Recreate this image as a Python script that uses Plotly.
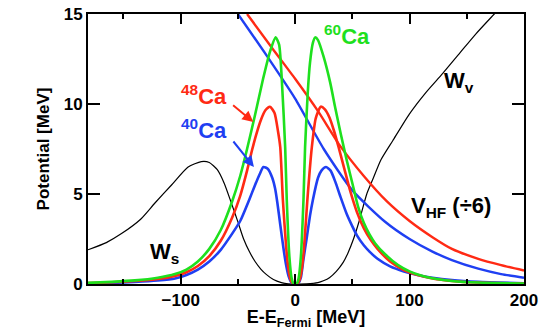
import plotly.graph_objects as go

# Surface absorption W_s for the three calcium isotopes (MeV vs E - E_Fermi)
ca60_e = [-181, -160, -140, -120, -105, -95, -85, -75, -65, -55, -48, -42, -35, -28, -22, -17,
          -14, -11.6, -8.7, -7.3, -5, -3, -1.5, 0, 1.5, 3, 5, 7.3, 8.7, 11, 13, 15.5, 17.5,
          20, 25, 30.6, 35, 40, 45, 50, 55, 60, 65, 70, 78.6, 90, 100, 110, 120, 137, 160, 200]
ca60_w = [0.06, 0.12, 0.2, 0.35, 0.55, 0.8, 1.25, 1.95, 3.0, 4.6, 6.0, 7.5, 9.4, 11.4, 12.9, 13.7,
          13.3, 11.3, 7.6, 4.67, 1.5, 0.3, 0.03, 0, 0.03, 0.3, 1.5, 4.67, 7.6, 10.6, 12.3, 13.4, 13.7,
          13.55, 12.6, 11.2, 9.8, 8.3, 6.9, 5.6, 4.3, 3.4, 2.75, 2.25, 1.65, 1.05, 0.7, 0.47, 0.32, 0.17, 0.08, 0.03]

ca48_e = [-181, -160, -140, -120, -105, -95, -85, -75, -65, -55, -48, -42, -37.8, -34, -30, -26, -22,
          -18, -15, -13, -10.7, -8, -6, -4, -2, 0, 2, 4, 6, 8, 10.7, 14.6, 18, 22.4, 26, 30,
          34, 38, 43, 48, 54, 60, 66, 72, 83, 95, 107, 120, 137, 160, 200]
ca48_w = [0.05, 0.1, 0.17, 0.28, 0.45, 0.65, 1.0, 1.55, 2.4, 3.7, 4.9, 6.3, 7.4, 8.3, 9.1, 9.65, 9.85,
          9.5, 8.5, 7.6, 4.67, 2.2, 0.9, 0.25, 0.02, 0, 0.02, 0.25, 0.9, 2.2, 4.67, 7.6, 9.2, 9.85, 9.7, 9.25,
          8.5, 7.6, 6.4, 5.2, 4.0, 3.1, 2.45, 1.95, 1.25, 0.78, 0.5, 0.31, 0.17, 0.08, 0.03]

ca40_e = [-181, -160, -140, -120, -105, -95, -85, -75, -65, -55, -48, -40, -35, -31, -27.7, -24,
          -20, -17.5, -15.5, -13, -10, -8, -5.8, -3, 0, 3, 5, 7.3, 10, 13, 15.5, 20, 23, 27,
          31, 35, 39.3, 45, 50, 54, 60, 65, 72, 83, 95, 107, 120, 137, 160, 200]
ca40_w = [0.03, 0.06, 0.11, 0.19, 0.3, 0.5, 0.8, 1.25, 1.9, 2.8, 3.5, 4.7, 5.5, 6.1, 6.5, 6.4,
          5.9, 5.3, 4.5, 3.3, 1.9, 1.1, 0.46, 0.06, 0, 0.06, 0.35, 1.39, 2.5, 3.8, 4.67, 5.9, 6.3, 6.5,
          6.3, 5.7, 4.9, 3.9, 3.2, 2.7, 2.15, 1.8, 1.4, 0.98, 0.7, 0.5, 0.35, 0.22, 0.12, 0.04]

# Hartree-Fock potential, scaled down by 6
vhf48_e = [-42, -20, 0, 20, 39, 60, 80, 100, 120, 137, 160, 180, 200]
vhf48_v = [15, 13.1, 11.4, 9.6, 7.7, 6.0, 4.6, 3.5, 2.6, 1.95, 1.4, 1.05, 0.75]
vhf40_e = [-50, -25, 0, 25, 50, 78.6, 100, 120, 137, 160, 180, 200]
vhf40_v = [15, 12.7, 10.3, 7.5, 5.2, 3.46, 2.5, 1.8, 1.33, 0.85, 0.55, 0.35]

# Surface (below E_F) and volume (above E_F) imaginary parts
ws_e = [-181, -165, -151.7, -135, -122.5, -108, -93.5, -82, -75, -68, -62, -56, -50, -45,
        -40, -35, -30, -25, -19, -12, -6, 0]
ws_w = [1.9, 2.3, 2.8, 3.6, 4.5, 5.5, 6.5, 6.8, 6.75, 6.35, 5.6, 4.55, 3.45, 2.5,
        1.8, 1.25, 0.83, 0.52, 0.25, 0.08, 0.01, 0]
wv_e = [0, 10, 20, 24.7, 30, 36, 42, 46, 51, 56, 62.6, 67.8, 75, 85.3, 99.8, 114.4, 129,
        143.5, 158, 174, 190]
wv_w = [0, 0.01, 0.08, 0.18, 0.35, 0.7, 1.2, 1.7, 2.5, 3.5, 5.0, 5.8, 6.9, 7.96, 9.44,
        10.65, 11.7, 12.8, 13.9, 15.0, 16.1]

RED = "#ff2a14"
GREEN = "#1ee01e"
BLUE = "#1f3ff2"
FONT = "Liberation Sans"

fig = go.Figure()

def curve(x, y, color, width):
    fig.add_trace(go.Scatter(x=x, y=y, mode="lines", line=dict(color=color, width=width, shape="spline", smoothing=0.6),
                             showlegend=False, hoverinfo="skip"))

curve(ws_e, ws_w, "#000000", 1.2)
curve(wv_e, wv_w, "#000000", 1.2)
curve(vhf40_e, vhf40_v, BLUE, 2.4)
curve(vhf48_e, vhf48_v, RED, 2.4)
curve(ca40_e, ca40_w, BLUE, 2.6)
curve(ca48_e, ca48_w, RED, 2.6)
curve(ca60_e, ca60_w, GREEN, 2.6)

def label(text, x, y, color, size=22):
    fig.add_annotation(x=x, y=y, xref="x", yref="y", text=text, showarrow=False,
                       font=dict(family=FONT, size=size, color=color, weight="bold"))

label("<sup>48</sup>Ca", -80, 10.5, RED)
label("<sup>40</sup>Ca", -80, 8.6, BLUE)
label("<sup>60</sup>Ca", 45, 13.85, GREEN)
label("W<sub>v</sub>", 143, 11.2, "black")
label("W<sub>s</sub>", -114.5, 1.72, "black")
label("V<sub>HF</sub> (÷6)", 136, 4.3, "black")

def arrow(x, y, ax, ay, color):
    fig.add_annotation(x=x, y=y, xref="x", yref="y", ax=ax, ay=ay, axref="x", ayref="y",
                       text="", showarrow=True, arrowhead=2, arrowsize=1.1, arrowwidth=2,
                       arrowcolor=color)

arrow(-36.5, 9.0, -55.5, 10.0, RED)
arrow(-36, 6.5, -55, 8.0, BLUE)

axis_common = dict(showline=True, linewidth=2, linecolor="black", mirror="ticks",
                   ticks="inside", tickwidth=2, tickcolor="black", showgrid=False, zeroline=False,
                   automargin=False,
                   tickfont=dict(family=FONT, size=17, color="black", weight="bold"))

fig.update_xaxes(range=[-181, 200], tickvals=[-100, 0, 100, 200], ticklen=10,
                 minor=dict(tickvals=[-150, -50, 50, 150], ticklen=5, ticks="inside", tickwidth=2, tickcolor="black"),
                 title=dict(text="E-E<sub>Fermi</sub> [MeV]", font=dict(family=FONT, size=18, color="black", weight="bold"),
                            standoff=4),
                 **axis_common)
fig.update_yaxes(range=[0, 15], tickvals=[0, 5, 10, 15], ticklen=12,
                 title=dict(text="Potential [MeV]", font=dict(family=FONT, size=17, color="black", weight="bold"),
                            standoff=10),
                 **axis_common)

fig.update_layout(width=552, height=330, margin=dict(l=88, r=28, t=14, b=46),
                  plot_bgcolor="white", paper_bgcolor="white")

fig.write_html("out.html")
